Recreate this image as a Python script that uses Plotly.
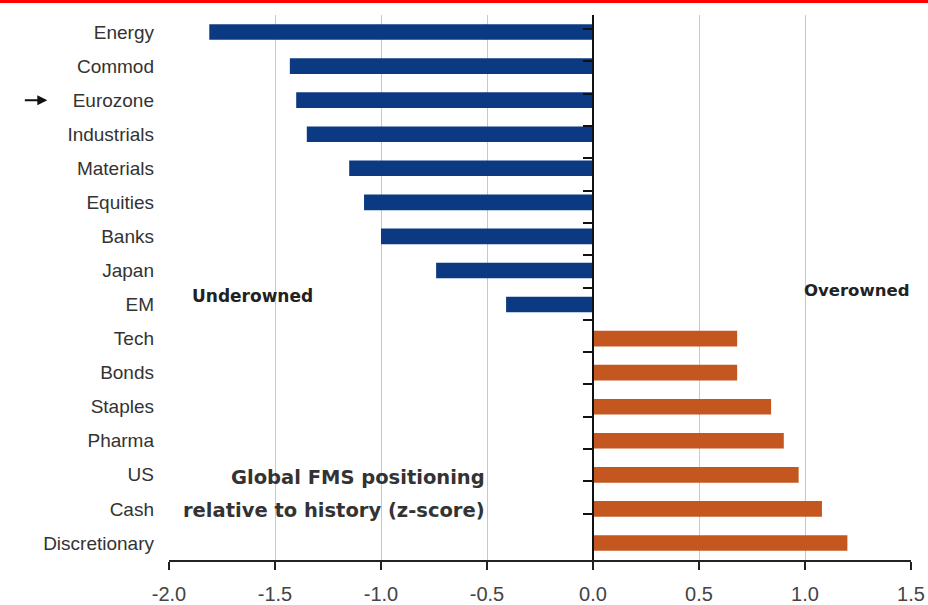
import plotly.graph_objects as go

# Global FMS positioning relative to history (z-score)
categories = ["Energy", "Commod", "Eurozone", "Industrials", "Materials", "Equities",
              "Banks", "Japan", "EM", "Tech", "Bonds", "Staples", "Pharma", "US",
              "Cash", "Discretionary"]

under_cats = ["Energy", "Commod", "Eurozone", "Industrials", "Materials", "Equities",
              "Banks", "Japan", "EM"]
under_vals = [-1.81, -1.43, -1.40, -1.35, -1.15, -1.08, -1.00, -0.74, -0.41]

over_cats = ["Tech", "Bonds", "Staples", "Pharma", "US", "Cash", "Discretionary"]
over_vals = [0.68, 0.68, 0.84, 0.90, 0.97, 1.08, 1.20]

x_ticks = [-2.0, -1.5, -1.0, -0.5, 0.0, 0.5, 1.0, 1.5]
x_tick_labels = ["-2.0", "-1.5", "-1.0", "-0.5", "0.0", "0.5", "1.0", "1.5"]
x_range = [-2.0, 1.5]

NAVY = "#0b3a83"
ORANGE = "#c4571f"

fig = go.Figure()
fig.add_trace(go.Bar(y=under_cats, x=under_vals, orientation="h",
                     marker=dict(color=NAVY, line=dict(width=0)), width=0.46,
                     name="Underowned"))
fig.add_trace(go.Bar(y=over_cats, x=over_vals, orientation="h",
                     marker=dict(color=ORANGE, line=dict(width=0)), width=0.46,
                     name="Overowned"))
# invisible carrier so the zero-line axis gets its category ticks
fig.add_trace(go.Scatter(y=categories, x=[0] * len(categories), yaxis="y2",
                         mode="markers", marker=dict(opacity=0, size=1),
                         hoverinfo="skip", showlegend=False))

zero_pos = (0 - x_range[0]) / (x_range[1] - x_range[0])

fig.update_layout(
    width=928, height=605,
    margin=dict(l=169, r=17, t=15, b=45, autoexpand=False),
    paper_bgcolor="white", plot_bgcolor="white",
    barmode="overlay", showlegend=False,
    font=dict(family="Liberation Sans, Arial, sans-serif", color="#333333"),
    xaxis=dict(range=x_range, tickvals=x_ticks, ticktext=x_tick_labels, automargin=False,
               showgrid=True, gridcolor="#c8c8c8", gridwidth=1,
               zeroline=False, showline=True, linecolor="#222222", linewidth=2,
               ticks="outside", ticklen=8, tickwidth=2, tickcolor="#222222",
               tickfont=dict(size=20, color="#444444"), ticklabelstandoff=7),
    yaxis=dict(type="category", categoryorder="array", categoryarray=categories,
               autorange="reversed", automargin=False, showgrid=False, zeroline=False,
               showline=False, ticks="", ticklabelstandoff=14,
               tickfont=dict(size=19, color="#333333")),
    yaxis2=dict(type="category", categoryorder="array", categoryarray=categories,
                autorange="reversed", overlaying="y", anchor="free", automargin=False,
                position=zero_pos, side="left", showgrid=False, zeroline=False,
                showline=True, linecolor="#111111", linewidth=2,
                ticks="outside", tickson="boundaries", ticklen=9, tickwidth=2,
                tickcolor="#111111", showticklabels=False),
)

bold = "DejaVu Sans, Arial, sans-serif"
fig.add_annotation(x=-1.9, xref="x", y=0.484, yref="paper", text="<b>Underowned</b>",
                   showarrow=False, xanchor="left", yanchor="middle",
                   font=dict(family=bold, size=17, color="#222222"))
fig.add_annotation(x=1.5, xref="x", y=0.495, yref="paper", text="<b>Overowned</b>",
                   showarrow=False, xanchor="right", yanchor="middle",
                   font=dict(family=bold, size=16.5, color="#222222"))
caption_lines = ["Global FMS positioning", "relative to history (z-score)"]
for line, ypos in zip(caption_lines, [0.1505, 0.0917]):
    fig.add_annotation(x=-0.5, xref="x", y=ypos, yref="paper",
                       text="<b>" + line + "</b>",
                       showarrow=False, xanchor="right", yanchor="middle", align="right",
                       font=dict(family=bold, size=19.5, color="#333333"))

# pointer at Eurozone
fig.add_annotation(x=-0.164, xref="paper", y="Eurozone", yref="y", text="",
                   showarrow=True, ax=-24, ay=0, axref="pixel", ayref="pixel",
                   arrowhead=2, arrowsize=1, arrowwidth=2, arrowcolor="#111111")

# red rule across the top
fig.add_shape(type="line", xref="paper", yref="paper",
              x0=-169 / 742, x1=(928 - 169) / 742,
              y0=1 + 13.5 / 545, y1=1 + 13.5 / 545,
              line=dict(color="#ff0000", width=3))

fig.write_html("out.html")
